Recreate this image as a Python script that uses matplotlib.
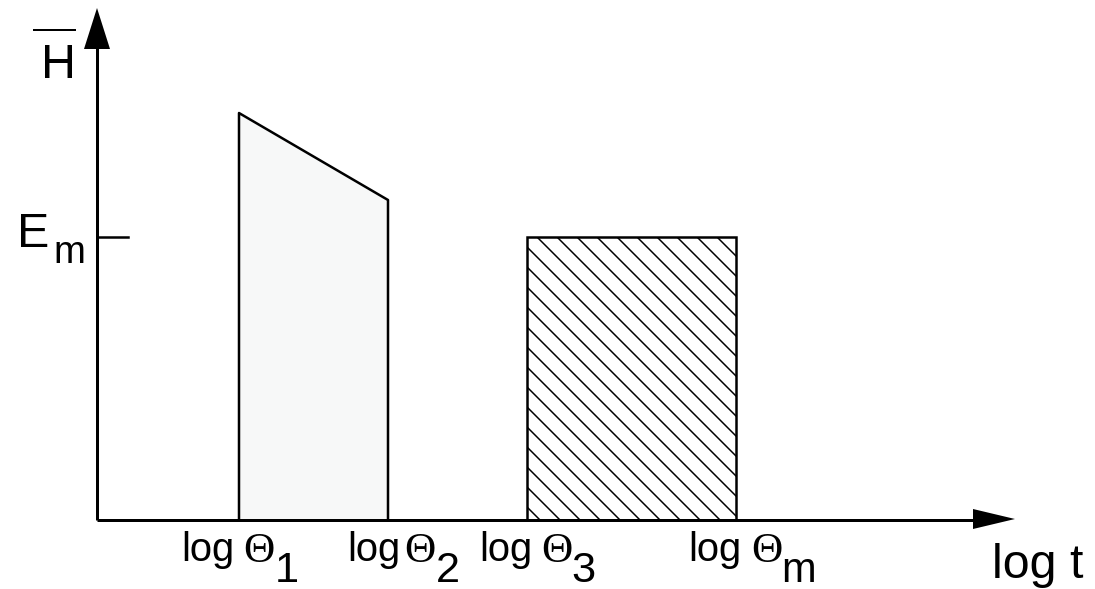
import matplotlib.pyplot as plt
from matplotlib.patches import Polygon, Rectangle

# positions on the log t axis (axis origin at 0)
theta_labels = ['1', '2', '3', 'm']
log_theta = [142, 291, 430, 639]
label_left = [84, 250, 382, 591]      # where each "log" label starts
sub_shift = [94, 89, 92, 93]           # subscript offset from label start
theta_shift = [62, 57, 62, 63]
# heights of H-bar
h_theta1 = 407
h_theta2 = 320
E_m = 283

plt.rcParams['font.family'] = ['Liberation Sans', 'DejaVu Sans']
plt.rcParams['hatch.linewidth'] = 0.9

fig = plt.figure(figsize=(1095 / 120, 589 / 120), dpi=120)
ax = fig.add_axes([0, 0, 1, 1])
ax.set_xlim(-97, 998)
ax.set_ylim(-69, 520)
ax.axis('off')

# axes with arrows
ax.plot([0, 0], [0, 475], color='black', lw=1.8, solid_capstyle='butt')
ax.plot([0, 880], [0, 0], color='black', lw=1.8, solid_capstyle='butt')
ax.add_patch(Polygon([[-13, 471], [13, 471], [0, 512]], closed=True, color='black', lw=0))
ax.add_patch(Polygon([[876, 11], [876, -9], [918, 1]], closed=True, color='black', lw=0))

# first block: light fill with sloped top
x1, x2 = log_theta[0], log_theta[1]
ax.fill([x1, x1, x2, x2], [0, h_theta1, h_theta2, 0], color='#f7f8f8', lw=0)
ax.plot([x1, x1, x2, x2], [0, h_theta1, h_theta2, 0], color='black', lw=1.5)

# second block: hatched rectangle up to E_m
x3, xm = log_theta[2], log_theta[3]
ax.add_patch(Rectangle((x3, 0), xm - x3, E_m, facecolor='white',
                       edgecolor='black', hatch='\\\\', lw=1.5))

# E_m tick
ax.plot([0, 31], [E_m, E_m], color='black', lw=1.5)

# y labels
ax.text(-56, 442, 'H', fontsize=29, ha='left', va='baseline')
ax.plot([-63, -22], [490, 490], color='black', lw=1.2)
ax.text(-80, 273, 'E', fontsize=29, ha='left', va='baseline')
ax.text(-44, 257, 'm', fontsize=23, ha='left', va='baseline')

# x tick labels
for lab, left, ts, ss in zip(theta_labels, label_left, theta_shift, sub_shift):
    ax.text(left, -41, 'log', fontsize=24, ha='left', va='baseline')
    ax.text(left + ts, -42, '\u0398', fontsize=26, ha='left', va='baseline',
            family='Liberation Serif')
    ax.text(left + ss, -62, lab, fontsize=25 if lab == 'm' else 26,
            ha='left', va='baseline')

ax.text(895, -58, 'log t', fontsize=29, ha='left', va='baseline')

fig.savefig('out.png', dpi=120)
